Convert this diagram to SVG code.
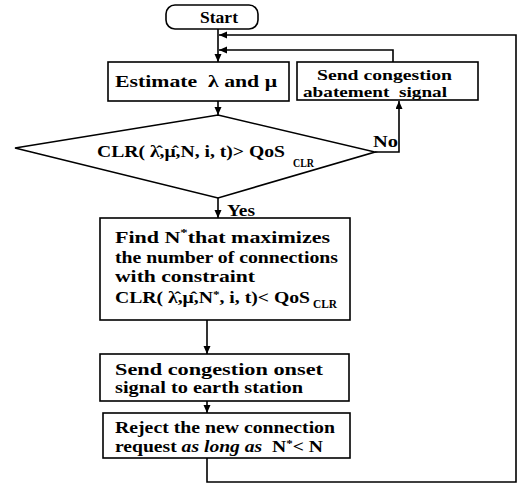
<svg xmlns="http://www.w3.org/2000/svg" width="518" height="490" viewBox="0 0 518 490">
<style>
.box{fill:#fff;stroke:#000;stroke-width:1.6}
.ln{fill:none;stroke:#000;stroke-width:1.6}
text{font-family:"Liberation Serif","Times New Roman",serif;font-weight:bold;font-size:16.5px;fill:#000}
.sm{font-size:15.5px}
.sub{font-size:12px}
.sup{font-size:11px}
.it{font-style:italic}
</style>
<defs>
<marker id="ah" markerUnits="userSpaceOnUse" markerWidth="9" markerHeight="8" refX="8" refY="3.5" orient="auto">
<path d="M0,0 L8,3.5 L0,7 z" fill="#000"/>
</marker>
</defs>
<rect width="518" height="490" fill="#fff"/>
<g id="connectors">
<line class="ln" x1="218" y1="29" x2="218" y2="62" marker-end="url(#ah)"/>
<path class="ln" d="M207,458 V482 H516 V35 H219" marker-end="url(#ah)"/>
<path class="ln" d="M393,62 V50 H219" marker-end="url(#ah)"/>
<line class="ln" x1="218" y1="101" x2="218" y2="115" marker-end="url(#ah)"/>
<path class="ln" d="M375,152 H399 V101" marker-end="url(#ah)"/>
<line class="ln" x1="218" y1="198" x2="218" y2="218" marker-end="url(#ah)"/>
<line class="ln" x1="207" y1="320" x2="207" y2="354" marker-end="url(#ah)"/>
<line class="ln" x1="207" y1="401" x2="207" y2="413" marker-end="url(#ah)"/>
<text x="373" y="147" textLength="25" lengthAdjust="spacingAndGlyphs">No</text>
<text x="227" y="216" textLength="28" lengthAdjust="spacingAndGlyphs">Yes</text>
</g>
<g id="start">
<rect class="box" x="166" y="5" width="92" height="24" rx="9"/>
<text x="200" y="23" textLength="38" lengthAdjust="spacingAndGlyphs">Start</text>
</g>
<g id="estimate">
<rect class="box" x="108" y="62" width="181" height="39"/>
<text x="115" y="87" textLength="162" lengthAdjust="spacingAndGlyphs" xml:space="preserve">Estimate  λ and μ</text>
</g>
<g id="abatement">
<rect class="box" x="297" y="62" width="181" height="38"/>
<text class="sm" x="317" y="80" textLength="135" lengthAdjust="spacingAndGlyphs">Send congestion</text>
<text class="sm" x="303" y="97" textLength="144" lengthAdjust="spacingAndGlyphs" xml:space="preserve">abatement  signal</text>
</g>
<g id="decision">
<polygon class="box" points="15,148 218,115 375,152 218,198"/>
<text x="97" y="157" textLength="188" lengthAdjust="spacingAndGlyphs">CLR( λ̂,μ̂,N, i, t)&gt; QoS</text>
<text class="sub" x="293" y="167" textLength="21" lengthAdjust="spacingAndGlyphs">CLR</text>
</g>
<g id="find">
<rect class="box" x="100" y="218" width="250" height="102"/>
<text x="115" y="243" textLength="215" lengthAdjust="spacingAndGlyphs">Find N<tspan class="sup" dy="-7">*</tspan><tspan dy="7">that maximizes</tspan></text>
<text x="115" y="263" textLength="223" lengthAdjust="spacingAndGlyphs">the number of connections</text>
<text x="115" y="282" textLength="140" lengthAdjust="spacingAndGlyphs">with constraint</text>
<text x="115" y="303" textLength="195" lengthAdjust="spacingAndGlyphs">CLR( λ̂,μ̂,N<tspan class="sup" dy="-5">*</tspan><tspan dy="5">, i, t)&lt; QoS</tspan></text>
<text class="sub" x="313" y="308" textLength="24" lengthAdjust="spacingAndGlyphs">CLR</text>
</g>
<g id="onset">
<rect class="box" x="100" y="354" width="249" height="47"/>
<text x="115" y="375" textLength="208" lengthAdjust="spacingAndGlyphs">Send congestion onset</text>
<text x="115" y="393" textLength="188" lengthAdjust="spacingAndGlyphs">signal to earth station</text>
</g>
<g id="reject">
<rect class="box" x="103" y="413" width="247" height="45"/>
<text x="115" y="433" textLength="220" lengthAdjust="spacingAndGlyphs">Reject the new connection</text>
<text x="115" y="452" textLength="208" lengthAdjust="spacingAndGlyphs" xml:space="preserve">request <tspan class="it">as long as</tspan>  N<tspan class="sup" dy="-5">*</tspan><tspan dy="5">&lt; N</tspan></text>
</g>
</svg>
